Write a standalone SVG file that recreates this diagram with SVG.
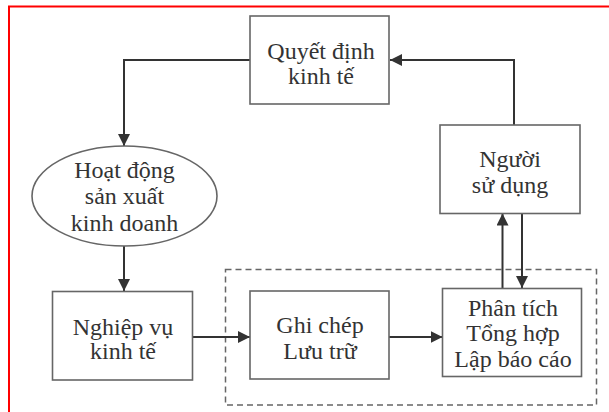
<svg xmlns="http://www.w3.org/2000/svg" width="609" height="412" viewBox="0 0 609 412">
<defs>
<marker id="ah" viewBox="0 0 12 12" refX="12" refY="6" markerWidth="12" markerHeight="12" markerUnits="userSpaceOnUse" orient="auto">
<path d="M0,0 L12,6 L0,12 z" fill="#333"/>
</marker>
</defs>
<style>
.box{fill:#fff;stroke:#666;stroke-width:1.6}
text{font-family:'Liberation Serif',Tinos,'Times New Roman',Times,serif;font-size:24px;fill:#333;text-anchor:middle}
.c{fill:none;stroke:#333;stroke-width:2}
</style>
<rect width="609" height="412" fill="#fff"/>
<path d="M9,412 V6.5 H609" fill="none" stroke="#f00" stroke-width="2"/>
<rect x="225.5" y="269.5" width="371" height="135.5" fill="none" stroke="#666" stroke-width="1.5" stroke-dasharray="6,4"/>
<g id="connectors">
<path class="c" d="M250,60 H124 V146" marker-end="url(#ah)"/>
<path class="c" d="M514,125 V60 H390" marker-end="url(#ah)"/>
<path class="c" d="M124,246 V291" marker-end="url(#ah)"/>
<path class="c" d="M192,337 H250" marker-end="url(#ah)"/>
<path class="c" d="M389,337 H442.5" marker-end="url(#ah)"/>
<path class="c" d="M502.5,288 V213.5" marker-end="url(#ah)"/>
<path class="c" d="M522,213.5 V288" marker-end="url(#ah)"/>
</g>
<g id="quyet-dinh">
<rect class="box" x="250" y="16" width="139" height="88"/>
<text x="321" y="59" font-family="Liberation Serif, serif">Quyết định</text>
<text x="321" y="84" font-family="Liberation Serif, serif">kinh tế</text>
</g>
<g id="hoat-dong">
<ellipse class="box" cx="124.5" cy="196" rx="92.5" ry="50"/>
<text x="124.5" y="178" font-family="Liberation Serif, serif">Hoạt động</text>
<text x="124.5" y="204" font-family="Liberation Serif, serif">sản xuất</text>
<text x="124.5" y="231" font-family="Liberation Serif, serif">kinh doanh</text>
</g>
<g id="nguoi-su-dung">
<rect class="box" x="440" y="125" width="140" height="88.5"/>
<text x="510" y="167" font-family="Liberation Serif, serif">Người</text>
<text x="510" y="193" font-family="Liberation Serif, serif">sử dụng</text>
</g>
<g id="nghiep-vu">
<rect class="box" x="52.5" y="291.5" width="140" height="88.5"/>
<text x="123" y="335" font-family="Liberation Serif, serif">Nghiệp vụ</text>
<text x="123" y="359" font-family="Liberation Serif, serif">kinh tế</text>
</g>
<g id="ghi-chep">
<rect class="box" x="250" y="291" width="139" height="88"/>
<text x="320" y="333" font-family="Liberation Serif, serif">Ghi chép</text>
<text x="320" y="359" font-family="Liberation Serif, serif">Lưu trữ</text>
</g>
<g id="phan-tich">
<rect class="box" x="442.5" y="288.5" width="139" height="88"/>
<text x="513" y="316" font-family="Liberation Serif, serif">Phân tích</text>
<text x="513" y="341" font-family="Liberation Serif, serif">Tổng hợp</text>
<text x="513" y="367" font-family="Liberation Serif, serif">Lập báo cáo</text>
</g>
</svg>
